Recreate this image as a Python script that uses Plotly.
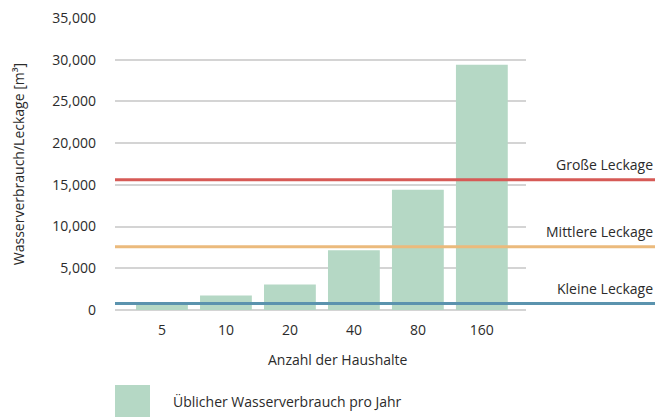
import plotly.graph_objects as go

categories = ["5", "10", "20", "40", "80", "160"]
consumption = [850, 1750, 3070, 7170, 14420, 29390]
series_name = "Üblicher Wasserverbrauch pro Jahr"
leak_names = ["Große Leckage", "Mittlere Leckage", "Kleine Leckage"]
leak_values = [15620, 7580, 780]
leak_colors = ["#d65a56", "#ebba7c", "#5b93ae"]
y_ticks = [0, 5000, 10000, 15000, 20000, 25000, 30000, 35000]

W, H = 657, 417
ML, MR, MT, MB = 115, 131, 18, 107
plot_w = W - ML - MR
font_family = "'Open Sans', sans-serif"
txt = "#2b2b2b"

fig = go.Figure()
fig.add_trace(go.Bar(
    x=categories, y=consumption, name=series_name,
    marker=dict(color="#b5d8c5", line=dict(width=0)),
    width=0.81, showlegend=False, hoverinfo="skip",
))

line_end = (W - 2 - ML) / plot_w
for name, val, col in zip(leak_names, leak_values, leak_colors):
    fig.add_shape(type="line", xref="paper", yref="y", x0=0, x1=line_end,
                  y0=val, y1=val, line=dict(color=col, width=3), layer="above")
    fig.add_annotation(xref="paper", yref="y", x=line_end, y=val, text=name,
                       showarrow=False, xanchor="right", yanchor="middle", yshift=15,
                       font=dict(size=14, color=txt, family=font_family))

ph = H - MT - MB
fig.add_annotation(xref="paper", yref="paper", x=(338 - ML) / plot_w, y=-(359 - (H - MB)) / ph,
                   text="Anzahl der Haushalte", showarrow=False, xanchor="center", yanchor="middle",
                   font=dict(size=14, color=txt, family=font_family))

# legend
fig.add_shape(type="rect", xref="paper", yref="paper",
              x0=0, x1=(150 - ML) / plot_w,
              y0=-(417 - (H - MB)) / ph, y1=-(385 - (H - MB)) / ph,
              fillcolor="#b5d8c5", line=dict(width=0))
fig.add_annotation(xref="paper", yref="paper", x=(171 - ML) / plot_w, y=-(401 - (H - MB)) / ph,
                   text=series_name, showarrow=False, xanchor="left", yanchor="middle",
                   font=dict(size=14, color=txt, family=font_family))

fig.update_layout(
    width=W, height=H,
    margin=dict(l=ML, r=MR, t=MT, b=MB, autoexpand=False),
    plot_bgcolor="white", paper_bgcolor="white",
    font=dict(family=font_family, size=14, color=txt),
    showlegend=False,
)
fig.update_xaxes(type="category", range=[-0.734, 5.69], showgrid=False, showline=False,
                 ticks="", tickfont=dict(size=14, color=txt), ticklabelstandoff=10)
fig.update_yaxes(range=[0, 35000], tickvals=y_ticks, tickformat=",d",
                 showgrid=True, gridcolor="#d4d4d4", gridwidth=1.5,
                 zeroline=True, zerolinecolor="#d4d4d4", zerolinewidth=1.5,
                 showline=False, ticks="", ticklabelstandoff=18,
                 tickfont=dict(size=14, color=txt),
                 title=dict(text="Wasserverbrauch/Leckage [m³]", standoff=24,
                            font=dict(size=14, color=txt)))

fig.write_html("out.html", config={"displayModeBar": False},
               post_script="document.body.style.margin='0';document.body.style.padding='0';")
